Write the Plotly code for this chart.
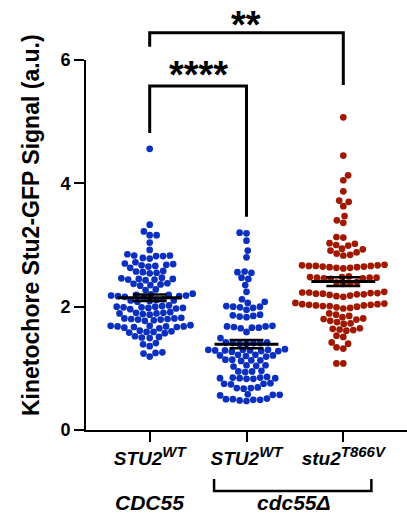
import math
import plotly.graph_objects as go

# ---------------- data ----------------
categories = ["STU2 WT (CDC55)", "STU2 WT (cdc55Δ)", "stu2 T866V (cdc55Δ)"]
tick_labels = ["<b><i>STU2<sup><span style='font-size:15px'>WT</span></sup></i></b>",
               "<b><i>STU2<sup><span style='font-size:15px'>WT</span></sup></i></b>",
               "<b><i>stu2<sup><span style='font-size:15px'>T866V</span></sup></i></b>"]
group_labels = ["<b><i>CDC55</i></b>", "<b><i>cdc55Δ</i></b>"]

stu2_wt_cdc55 = [
    4.56,
    3.33, 3.22, 3.16, 3.16, 3.04, 2.92,
    2.85, 2.82, 2.83, 2.82, 2.79, 2.78, 2.83,
    2.68, 2.66, 2.70, 2.69, 2.72, 2.65, 2.63, 2.67,
    2.57, 2.56, 2.58, 2.55, 2.54,
    2.46, 2.45, 2.44, 2.47, 2.43, 2.45, 2.44,
    2.37, 2.36, 2.35, 2.38, 2.34,
    2.28, 2.27,
    2.19, 2.18, 2.17, 2.20, 2.18, 2.16, 2.19, 2.17, 2.21, 2.15,
    2.11, 2.10, 2.09, 2.12, 2.08, 2.10,
    2.00, 1.99, 1.98, 2.01, 1.97, 2.02, 1.99, 1.98, 2.00, 1.96,
    1.90, 1.89, 1.88, 1.91, 1.87, 1.89, 1.90,
    1.81, 1.80, 1.79, 1.82, 1.78, 1.80, 1.81, 1.77, 1.79,
    1.69, 1.68, 1.67, 1.70, 1.66, 1.68, 1.69, 1.65, 1.67, 1.68,
    1.60, 1.59, 1.58, 1.61, 1.57, 1.59,
    1.51, 1.50, 1.49, 1.52,
    1.41, 1.39,
    1.36,
    1.26, 1.25, 1.24,
    1.19,
]

stu2_wt_cdc55d = [
    3.20, 3.19, 3.07, 2.91, 2.80,
    2.57, 2.56, 2.55, 2.47, 2.45, 2.35, 2.24,
    2.12, 2.08, 2.06,
    2.01, 2.00, 1.99, 1.98, 2.00, 1.95,
    1.86, 1.85, 1.84, 1.83, 1.87,
    1.69, 1.68, 1.67, 1.68,
    1.66, 1.65, 1.66, 1.59, 1.49,
    1.42, 1.41, 1.40, 1.41, 1.42, 1.40, 1.41,
    1.30, 1.29, 1.28, 1.30, 1.29, 1.31, 1.28, 1.29, 1.30, 1.27,
    1.22, 1.21, 1.20, 1.22, 1.21, 1.19,
    1.14, 1.13, 1.12, 1.14, 1.13,
    1.05, 1.04, 1.03, 1.05,
    0.96, 0.95, 0.94, 0.95,
    0.85, 0.84, 0.83, 0.85, 0.84, 0.86, 0.83, 0.84,
    0.76, 0.75, 0.74, 0.75,
    0.69, 0.68, 0.67, 0.68,
    0.58, 0.57, 0.56, 0.57,
    0.50, 0.49, 0.48, 0.50, 0.49, 0.47, 0.51,
]

stu2_t866v_cdc55d = [
    5.07, 4.45, 4.13, 4.05, 3.87,
    3.72, 3.70, 3.63,
    3.47, 3.40, 3.36,
    3.13, 3.12, 3.03, 2.99, 2.93, 3.00, 3.02,
    2.88, 2.83, 2.91, 2.94, 2.84, 2.86,
    2.68, 2.66, 2.64, 2.65, 2.63, 2.66, 2.67, 2.64, 2.65, 2.62, 2.66, 2.63, 2.67,
    2.48, 2.47, 2.46, 2.49, 2.47, 2.45, 2.48, 2.46, 2.47,
    2.39, 2.38, 2.37, 2.40,
    2.24, 2.22, 2.20, 2.23, 2.21, 2.19, 2.22, 2.18, 2.20, 2.17, 2.21, 2.16, 2.23,
    2.06, 2.04, 2.02, 2.05, 2.01, 2.03, 2.00, 2.04, 1.99, 2.02, 1.98, 2.03, 1.97, 2.01,
    1.89, 1.87, 1.85, 1.83, 1.81, 1.79, 1.77, 1.80, 1.75, 1.73, 1.72,
    1.65, 1.63, 1.62, 1.64, 1.61,
    1.53, 1.51,
    1.42, 1.40,
    1.34, 1.32,
    1.08, 1.08,
]

groups = [stu2_wt_cdc55, stu2_wt_cdc55d, stu2_t866v_cdc55d]
colors = ["#0b2fbe", "#0b2fbe", "#a11800"]

# ---------------- layout geometry ----------------
W, H = 407, 519
M_L, M_R, M_T, M_B = 86, 0, 60, 89
X_RANGE = [-0.658, 2.658]
Y_RANGE = [0, 6]
PLOT_W = W - M_L - M_R
PLOT_H = H - M_T - M_B
XS = PLOT_W / (X_RANGE[1] - X_RANGE[0])   # px per category unit
YS = PLOT_H / (Y_RANGE[1] - Y_RANGE[0])   # px per value unit
DOT = 6.7
FONT = "Liberation Sans, Arial, sans-serif"


def swarm(vals, d=DOT + 0.2):
    """Beeswarm offsets (category units) computed from values."""
    idx = sorted(range(len(vals)), key=lambda i: vals[i])
    placed = []
    offs = [0.0] * len(vals)
    for k, i in enumerate(idx):
        y = vals[i] * YS
        cands = [0.0]
        for (xj, yj) in placed:
            dy = abs(y - yj)
            if dy < d:
                dx = math.sqrt(d * d - dy * dy)
                cands += [xj - dx, xj + dx]
        sgn = 1 if k % 2 else -1
        cands.sort(key=lambda c: (round(abs(c), 3), sgn * c))
        for c in cands:
            if all((c - xj) ** 2 + (y - yj) ** 2 >= d * d - 1e-6 for xj, yj in placed):
                placed.append((c, y))
                offs[i] = c / XS
                break
    return offs


def xp(c):
    return (c - X_RANGE[0]) / (X_RANGE[1] - X_RANGE[0])


def yp_pix(p):
    # page pixel (from top) -> paper y
    return (H - M_B - p) / PLOT_H


fig = go.Figure()

for gi, vals in enumerate(groups):
    offs = swarm(vals)
    fig.add_trace(go.Scatter(
        x=[gi + o for o in offs], y=vals, mode="markers",
        marker=dict(size=DOT, color=colors[gi], line=dict(width=0)),
        name=categories[gi], showlegend=False, hoverinfo="y"))

for gi, vals in enumerate(groups):
    n = len(vals)
    m = sum(vals) / n
    sd = math.sqrt(sum((v - m) ** 2 for v in vals) / (n - 1))
    sem = sd / math.sqrt(n)
    cap = 0.175
    xs = [gi - cap, gi + cap, None, gi - cap, gi + cap, None, gi, gi]
    ys = [m + sem, m + sem, None, m - sem, m - sem, None, m - sem, m + sem]
    fig.add_trace(go.Scatter(x=xs, y=ys, mode="lines",
                             line=dict(color="black", width=2.5),
                             showlegend=False, hoverinfo="skip"))
    fig.add_trace(go.Scatter(x=[gi - 0.33, gi + 0.33], y=[m, m], mode="lines",
                             line=dict(color="black", width=3),
                             showlegend=False, hoverinfo="skip"))

shapes = []
LW = 3


def bracket(x0, x1, ytop, yl, yr):
    return dict(type="path", xref="paper", yref="paper",
                path=f"M {xp(x0)},{yp_pix(yl)} L {xp(x0)},{yp_pix(ytop)} "
                     f"L {xp(x1)},{yp_pix(ytop)} L {xp(x1)},{yp_pix(yr)}",
                line=dict(color="black", width=LW))


shapes.append(bracket(0, 2, 32.7, 46.7, 85))
shapes.append(bracket(0, 1, 86, 133, 216.7))
shapes.append(dict(type="path", xref="paper", yref="paper",
                   path=f"M {xp(0.665)},{yp_pix(479)} L {xp(0.665)},{yp_pix(491)} "
                        f"L {xp(2.29)},{yp_pix(491)} L {xp(2.29)},{yp_pix(479)}",
                   line=dict(color="black", width=2.5)))

annotations = [
    dict(text="<b>**</b>", x=xp(0.99), y=yp_pix(25), xref="paper", yref="paper",
         showarrow=False, font=dict(family=FONT, size=38, color="black"),
         xanchor="center", yanchor="middle"),
    dict(text="<b>****</b>", x=xp(0.5), y=yp_pix(75), xref="paper", yref="paper",
         showarrow=False, font=dict(family=FONT, size=38, color="black"),
         xanchor="center", yanchor="middle"),
    dict(text=group_labels[0], x=xp(0), y=yp_pix(502), xref="paper", yref="paper",
         showarrow=False, font=dict(family=FONT, size=21, color="black"),
         xanchor="center", yanchor="middle"),
    dict(text=group_labels[1], x=xp(1.49), y=yp_pix(502), xref="paper", yref="paper",
         showarrow=False, font=dict(family=FONT, size=21, color="black"),
         xanchor="center", yanchor="middle"),
    dict(text="<b>Kinetochore Stu2-GFP Signal (a.u.)</b>", x=(31 - M_L) / PLOT_W,
         y=yp_pix(225), xref="paper", yref="paper", textangle=-90,
         showarrow=False, font=dict(family=FONT, size=23, color="black"),
         xanchor="center", yanchor="middle"),
]

fig.update_layout(
    width=W, height=H,
    margin=dict(l=M_L, r=M_R, t=M_T, b=M_B, pad=0),
    paper_bgcolor="white", plot_bgcolor="white",
    shapes=shapes, annotations=annotations,
    xaxis=dict(range=X_RANGE, tickvals=[0, 1, 2], ticktext=tick_labels,
               showline=True, linecolor="black", linewidth=2,
               ticks="outside", ticklen=10, tickwidth=2, tickcolor="black",
               showgrid=False, zeroline=False,
               tickfont=dict(family=FONT, size=19, color="black")),
    yaxis=dict(range=Y_RANGE, tickvals=[0, 2, 4, 6],
               ticktext=["<b>0</b>", "<b>2</b>", "<b>4</b>", "<b>6</b>"],
               showline=True, linecolor="black", linewidth=2,
               ticks="outside", ticklen=10, tickwidth=2, tickcolor="black",
               showgrid=False, zeroline=False,
               tickfont=dict(family=FONT, size=18, color="black")),
)

fig.write_html("out.html")
